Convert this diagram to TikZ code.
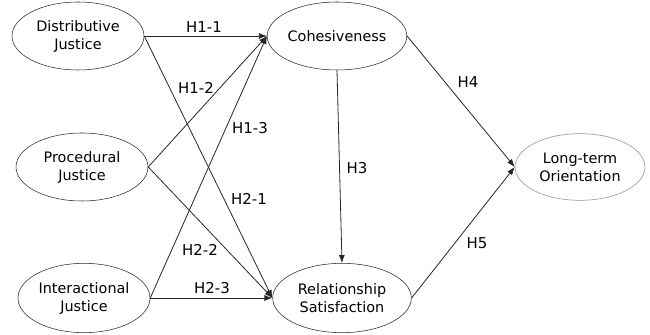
\documentclass[tikz,border=0pt]{standalone}
\usepackage{fontspec}
\setmainfont{DejaVu Sans}
\usepackage{tikz}
\usetikzlibrary{shapes,arrows,arrows.meta,positioning,calc}

\begin{document}
\begin{tikzpicture}[x=0.75pt,y=0.75pt,
    construct/.style={draw=black!85,ellipse,align=center,inner sep=0pt,
                      minimum width=99pt,minimum height=51pt,
                      font=\fontsize{10.8}{13.5}\selectfont},
    hyp/.style={-{Latex[length=6pt,width=4.5pt]},line width=0.6pt,draw=black!85},
    hlabel/.style={font=\fontsize{11.2}{12}\selectfont,inner sep=1pt}]
\useasboundingbox (0,0) rectangle (650,335);

% justice dimensions
\node[construct] (dist) at (78,299) {Distributive\\Justice};
\node[construct] (proc) at (82,168) {Procedural\\Justice};
\node[construct,minimum height=52pt] (inter) at (84,37) {Interactional\\Justice};

% mediators and outcome
\node[construct,minimum width=103.5pt] (coh) at (337,299) {Cohesiveness};
\node[construct,minimum width=104pt,minimum height=52pt] (rel) at (342,37) {Relationship\\Satisfaction};
\node[construct,draw=black!45,minimum width=97.5pt,minimum height=50pt] (lto) at (580,168) {Long-term\\Orientation};

% hypotheses
\draw[hyp] (dist.east) -- (coh.west);
\draw[hyp] (dist.east) -- (rel.west);
\draw[hyp] (proc.east) -- (coh.west);
\draw[hyp] (proc.east) -- (rel.west);
\draw[hyp] (inter.east) -- (coh.west);
\draw[hyp] (inter.east) -- (rel.west);
\draw[hyp] (coh.south) -- (rel.north);
\draw[hyp] (coh.east) -- (lto.west);
\draw[hyp] (rel.east) -- (lto.west);

\node[hlabel] (h11) at (204,308) {H1-1};
\node[hlabel] (h12) at (196,247) {H1-2};
\node[hlabel] (h13) at (250,207) {H1-3};
\node[hlabel] (h21) at (249,136) {H2-1};
\node[hlabel] (h22) at (200,85) {H2-2};
\node[hlabel] (h23) at (212,47) {H2-3};
\node[hlabel] (h3) at (357,167) {H3};
\node[hlabel] (h4) at (468,253) {H4};
\node[hlabel] (h5) at (477,92) {H5};
\end{tikzpicture}
\end{document}
